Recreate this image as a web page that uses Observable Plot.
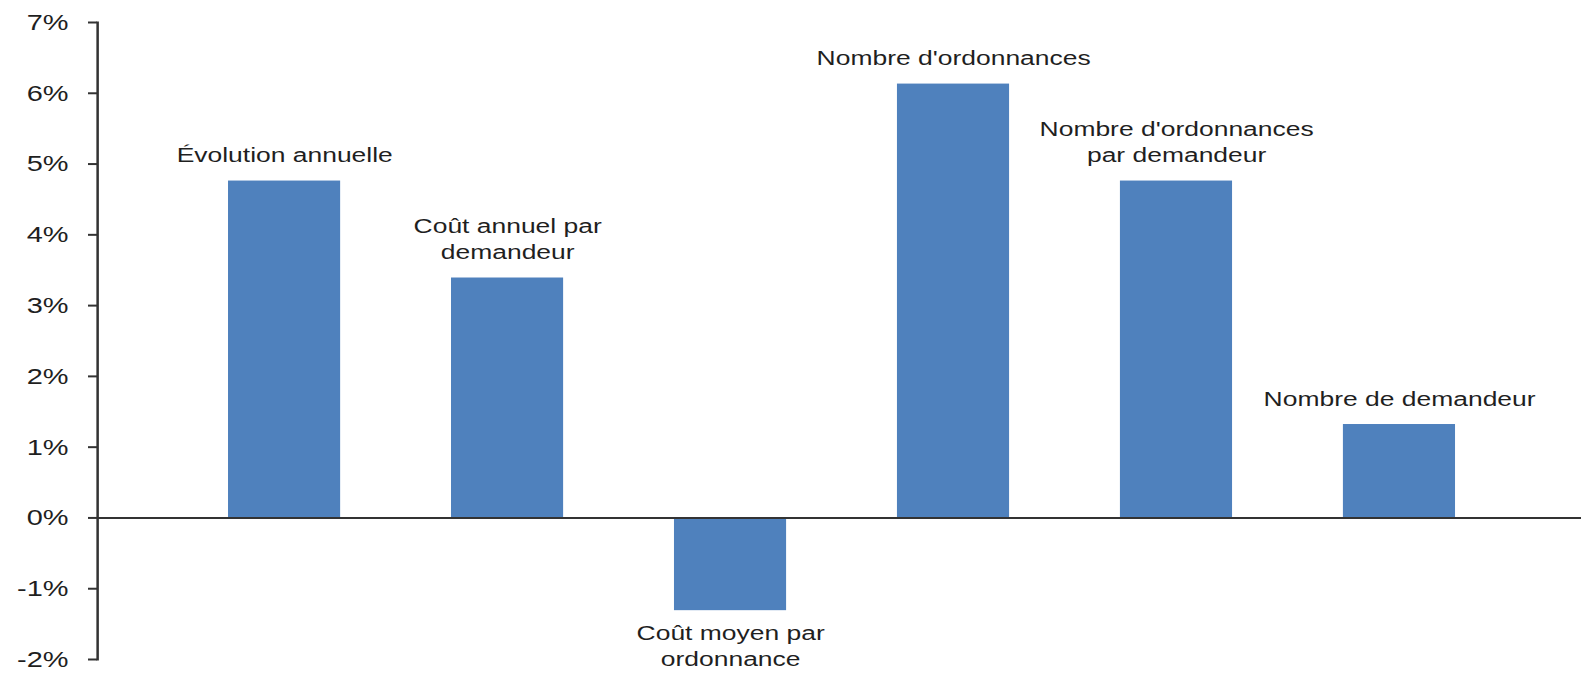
<!DOCTYPE html>
<html lang="fr">
<head>
<meta charset="utf-8">
<script src="https://cdn.jsdelivr.net/npm/d3@7"></script>
<script src="https://cdn.jsdelivr.net/npm/@observablehq/plot@0.6"></script>
<style>
  html, body { margin: 0; padding: 0; background: #ffffff; }
  #chart { width: 1581px; height: 675px; overflow: hidden; }
</style>
</head>
<body>
<div id="chart"></div>
<script>
// ---- Data ----
const categories = [
  "Évolution annuelle",
  "Coût annuel par\ndemandeur",
  "Coût moyen par\nordonnance",
  "Nombre d'ordonnances",
  "Nombre d'ordonnances\npar demandeur",
  "Nombre de demandeur"
];
const values = [4.76, 3.39, -1.31, 6.13, 4.76, 1.32];
const yTicks = [-2, -1, 0, 1, 2, 3, 4, 5, 6, 7];

const data = categories.map((c, i) => ({cat: c, value: values[i]}));

// The reference is horizontally stretched; draw at a narrower width and stretch.
const OUT_W = 1581, OUT_H = 675;
const W = 1255;
const sx = OUT_W / W;

const font = "'Liberation Sans', Arial, sans-serif";
const textColor = "#1f1f1f";

const chart = Plot.plot({
  width: W,
  height: OUT_H,
  marginLeft: 97 / sx,
  marginRight: 0,
  marginTop: 22,
  marginBottom: 16,
  style: {fontFamily: font, color: textColor, background: "#ffffff"},
  x: {domain: categories, range: [169.5 / sx, 1513 / sx], paddingInner: 0.5, paddingOuter: 0.25, axis: null},
  y: {domain: [-2, 7], label: null},
  marks: [
    Plot.barY(data, {x: "cat", y: "value", fill: "#4F81BD"}),
    Plot.ruleY([0], {stroke: "#333333", strokeWidth: 2}),
    Plot.frame({anchor: "left", stroke: "#333333", strokeWidth: 2}),
    Plot.axisY({
      ticks: yTicks,
      tickFormat: d => `${d}%`,
      tickSize: 9 / sx,
      tickPadding: 20 / sx,
      fontSize: 23,
      label: null,
      stroke: "#333333",
      strokeWidth: 2,
      fill: textColor
    }),
    Plot.text(data.filter(d => d.value >= 0), {
      x: "cat", y: "value", text: "cat",
      lineAnchor: "bottom", dy: -19, lineHeight: 1.24,
      fontSize: 21, fill: textColor, textAnchor: "middle"
    }),
    Plot.text(data.filter(d => d.value < 0), {
      x: "cat", y: "value", text: "cat",
      lineAnchor: "top", dy: 11, lineHeight: 1.24,
      fontSize: 21, fill: textColor, textAnchor: "middle"
    })
  ]
});

chart.setAttribute("width", OUT_W);
chart.setAttribute("height", OUT_H);
chart.setAttribute("preserveAspectRatio", "none");
chart.style.width = OUT_W + "px";
chart.style.height = OUT_H + "px";
chart.style.maxWidth = "none";
document.getElementById("chart").appendChild(chart);
</script>
</body>
</html>
